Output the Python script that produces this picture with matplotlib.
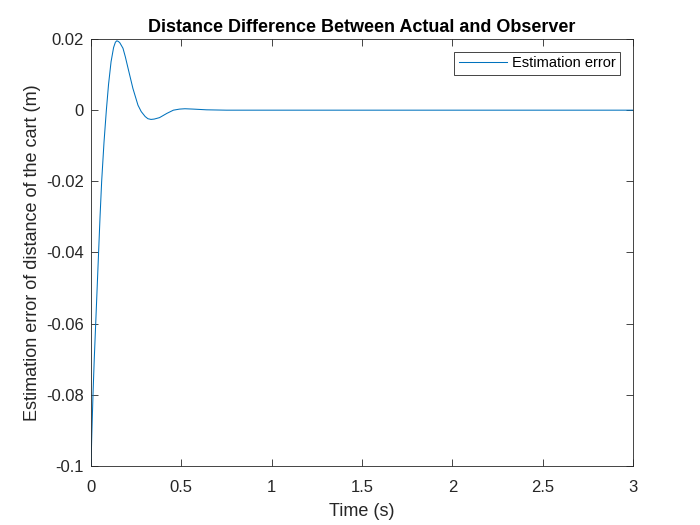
import matplotlib
matplotlib.use("Agg")
import matplotlib.pyplot as plt

t = [0, 0.004, 0.011, 0.018, 0.026, 0.034, 0.042, 0.050, 0.059, 0.072, 0.085,
     0.097, 0.111, 0.125, 0.135, 0.143, 0.152, 0.160, 0.177, 0.190, 0.205,
     0.232, 0.260, 0.278, 0.300, 0.315, 0.332, 0.350, 0.379, 0.420, 0.456,
     0.490, 0.520, 0.566, 0.640, 0.750, 3.0]
err = [-0.1, -0.092, -0.08, -0.07, -0.06, -0.05, -0.04, -0.03, -0.02, -0.009,
       0.0, 0.0072, 0.0136, 0.0176, 0.0191, 0.0195, 0.0193, 0.0189, 0.0174,
       0.0150, 0.0118, 0.0061, 0.0014, -0.0004, -0.0018, -0.0024, -0.0026,
       -0.0025, -0.0021, -0.0009, 0.0, 0.0003, 0.0004, 0.0003, 0.0001, 0.0,
       0.0]

xticks = [0, 0.5, 1, 1.5, 2, 2.5, 3]
xticklabels = ["0", "0.5", "1", "1.5", "2", "2.5", "3"]
yticks = [0.02, 0, -0.02, -0.04, -0.06, -0.08, -0.1]
yticklabels = ["0.02", "0", "-0.02", "-0.04", "-0.06", "-0.08", "-0.1"]

plt.rcParams['font.family'] = ['Liberation Sans', 'DejaVu Sans']
axc = (0.15, 0.15, 0.15)

fig = plt.figure(figsize=(7, 5.25), dpi=100)
ax = fig.add_axes([0.13, 0.1124, 0.7743, 0.8133])
ax.plot(t, err, color='#0072BD', lw=0.75, label='Estimation error')
ax.set_xlim(0, 3)
ax.set_ylim(-0.1, 0.02)
ax.set_xticks(xticks)
ax.set_xticklabels(xticklabels)
ax.set_yticks(yticks)
ax.set_yticklabels(yticklabels)
ax.tick_params(direction='in', top=True, right=True, length=5, width=0.6,
               colors=axc, labelsize=12, labelcolor=axc)
ax.tick_params(axis='x', pad=10)
ax.tick_params(axis='y', pad=5)
for s in ax.spines.values():
    s.set_color(axc)
    s.set_linewidth(0.6)
ax.set_xlabel('Time (s)', fontsize=13, color=axc, labelpad=6)
ax.set_ylabel('Estimation error of distance of the cart (m)', fontsize=13,
              color=axc, labelpad=4)
ax.set_title('Distance Difference Between Actual and Observer', fontsize=13,
             fontweight='bold', color='black', pad=5)
leg = ax.legend(loc='upper right', fontsize=10.5, frameon=True, fancybox=False,
                borderpad=0.3, handlelength=3.3, handletextpad=0.35,
                borderaxespad=0, bbox_to_anchor=(0.976, 0.9696))
leg.get_frame().set_edgecolor(axc)
leg.get_frame().set_linewidth(0.6)
leg.get_frame().set_alpha(1)
fig.savefig('out.png', dpi=100)
